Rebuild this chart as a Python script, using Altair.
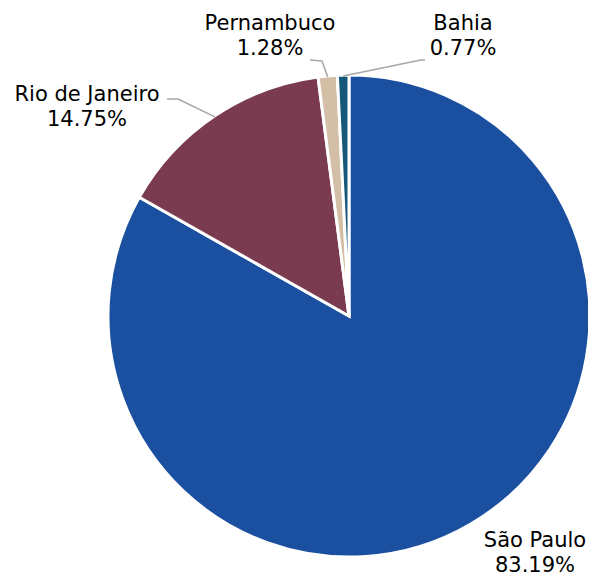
import math
import altair as alt
import pandas as pd

states = ["São Paulo", "Rio de Janeiro", "Pernambuco", "Bahia"]
shares = [83.19, 14.75, 1.28, 0.77]
colors = ["#1B4F9F", "#7A3A50", "#D3BFA5", "#15587A"]

# ---- layout / style (plot pixels) ----
W, H = 580, 571
CX, CY, R = 341, 308, 241
FONT = "DejaVu Sans"
label_pos = {
    "São Paulo": (527, 533),
    "Rio de Janeiro": (79, 87),
    "Pernambuco": (262, 16),
    "Bahia": (455, 16),
}
leader_pts = {
    "Rio de Janeiro": [(170, 91), (159, 91)],
    "Pernambuco": [(314, 53), (302, 52)],
    "Bahia": [(413, 52), (417, 52)],
}

df = pd.DataFrame({"state": states, "share": shares, "idx": range(len(states))})

total = sum(shares)
rows_lab, rows_line = [], []
cum = 0.0
for s, v in zip(states, shares):
    mid = (cum + v / 2) / total * 2 * math.pi
    cum += v
    lx, ly = label_pos[s]
    rows_lab.append({"state": s, "x": lx, "y": ly, "txt": f"{s}\n{v:.2f}%"})
    if s in leader_pts:
        ex = CX + (R - 1) * math.sin(mid)
        ey = CY - (R - 1) * math.cos(mid)
        pts = [(ex, ey)] + leader_pts[s]
        for k, (px, py) in enumerate(pts):
            rows_line.append({"state": s, "k": k, "x": px, "y": py})
lab = pd.DataFrame(rows_lab)
lines = pd.DataFrame(rows_line)

xs = alt.Scale(domain=[0, W], range=[0, W])
ys = alt.Scale(domain=[0, H], range=[0, H])

pie = alt.Chart(df).mark_arc(outerRadius=R, stroke="white", strokeWidth=3).encode(
    theta=alt.Theta("share:Q", stack=True),
    color=alt.Color("state:N", scale=alt.Scale(domain=states, range=colors), legend=None),
    order=alt.Order("idx:Q"),
    x=alt.value(CX),
    y=alt.value(CY),
)

leaders = alt.Chart(lines).mark_line(color="#A6A6A6", strokeWidth=1.5).encode(
    x=alt.X("x:Q", scale=xs, axis=None),
    y=alt.Y("y:Q", scale=ys, axis=None),
    detail="state:N",
    order="k:Q",
)

texts = alt.Chart(lab).mark_text(
    font=FONT, fontSize=21, color="#000000", lineBreak="\n", lineHeight=25,
    align="center", baseline="middle",
).encode(
    x=alt.X("x:Q", scale=xs, axis=None),
    y=alt.Y("y:Q", scale=ys, axis=None),
    text="txt:N",
)

chart = alt.layer(pie, leaders, texts).properties(
    width=W, height=H, autosize="none", padding=0
).configure_view(stroke=None)

chart.save("out.html", embed_options={"renderer": "svg", "actions": False})
